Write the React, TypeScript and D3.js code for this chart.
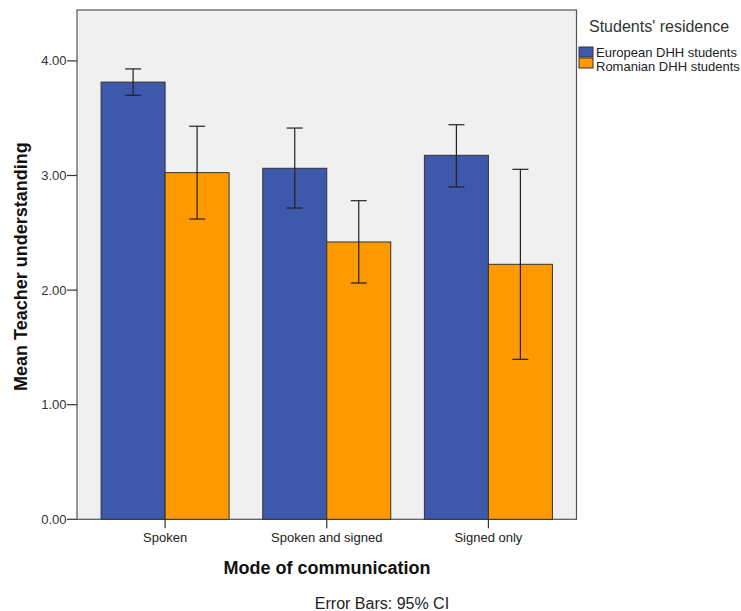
import React from "react";
import * as d3 from "d3";

const categories = ["Spoken", "Spoken and signed", "Signed only"];
const seriesNames = ["European DHH students", "Romanian DHH students"];
const europeanMeans = [3.815, 3.063, 3.176];
const europeanLow = [3.70, 2.716, 2.90];
const europeanHigh = [3.93, 3.414, 3.443];
const romanianMeans = [3.025, 2.42, 2.225];
const romanianLow = [2.62, 2.062, 1.396];
const romanianHigh = [3.43, 2.78, 3.054];
const yTicks = [0, 1, 2, 3, 4];
const colors = ["#3e58ac", "#ff9900"];

const W = 741, H = 611;
const left = 77, right = 576.5, top = 10, bottom = 519.3;

export default function App() {
  const x = d3.scalePoint<string>().domain(categories).range([left, right]).padding(0.545);
  const y = d3.scaleLinear().domain([0, 4]).range([bottom, bottom - 4 * 114.6]);
  const barW = 64;
  const series = [
    { m: europeanMeans, lo: europeanLow, hi: europeanHigh },
    { m: romanianMeans, lo: romanianLow, hi: romanianHigh },
  ];
  const font = "'Liberation Sans', Arial, sans-serif";
  return (
    <svg width={W} height={H} style={{ position: "absolute", left: 0, top: 0 }} fontFamily={font}>
      <rect x={0} y={0} width={W} height={H} fill="#fff" />
      <rect x={left} y={top} width={right - left} height={bottom - top} fill="#f0f0f0" stroke="#555" strokeWidth={1.2} />
      {series.map((s, si) =>
        categories.map((c, ci) => {
          const cx = x(c)!;
          const bx = si === 0 ? cx - barW : cx;
          return (
            <g key={`${si}-${ci}`}>
              <rect x={bx} y={y(s.m[ci])} width={barW} height={bottom - y(s.m[ci])} fill={colors[si]} stroke="#333" strokeWidth={1} />
            </g>
          );
        })
      )}
      {series.map((s, si) =>
        categories.map((c, ci) => {
          const cx = x(c)!;
          const ex = si === 0 ? cx - barW / 2 : cx + barW / 2;
          return (
            <g key={`e${si}-${ci}`} stroke="#222" strokeWidth={1.2}>
              <line x1={ex} x2={ex} y1={y(s.hi[ci])} y2={y(s.lo[ci])} />
              <line x1={ex - 8} x2={ex + 8} y1={y(s.hi[ci])} y2={y(s.hi[ci])} />
              <line x1={ex - 8} x2={ex + 8} y1={y(s.lo[ci])} y2={y(s.lo[ci])} />
            </g>
          );
        })
      )}
      {yTicks.map((t) => (
        <g key={t}>
          <line x1={left - 10} x2={left} y1={y(t)} y2={y(t)} stroke="#333" strokeWidth={1.2} />
          <text x={left - 10.5} y={y(t) + 4.5} textAnchor="end" fontSize={13} fill="#333">{t.toFixed(2)}</text>
        </g>
      ))}
      {categories.map((c) => (
        <g key={c}>
          <line x1={x(c)} x2={x(c)} y1={bottom} y2={bottom + 9} stroke="#333" strokeWidth={1.2} />
          <text x={x(c)} y={541.5} textAnchor="middle" fontSize={13} fill="#222">{c}</text>
        </g>
      ))}
      <text x={327} y={574} textAnchor="middle" fontSize={18} fontWeight="bold" fill="#111">Mode of communication</text>
      <text x={382} y={609} textAnchor="middle" fontSize={16} fill="#222">Error Bars: 95% CI</text>
      <text transform={`translate(27,${(top + bottom) / 2 + 2}) rotate(-90)`} textAnchor="middle" fontSize={18} fontWeight="bold" fill="#111">Mean Teacher understanding</text>
      <text x={589} y={32} fontSize={16} fill="#333">Students' residence</text>
      {seriesNames.map((n, i) => (
        <g key={n}>
          <rect x={579} y={47 + i * 11} width={14} height={10} fill={colors[i]} stroke="#333" strokeWidth={1} />
          <text x={596} y={57 + i * 14} fontSize={13} fill="#222">{n}</text>
        </g>
      ))}
    </svg>
  );
}
